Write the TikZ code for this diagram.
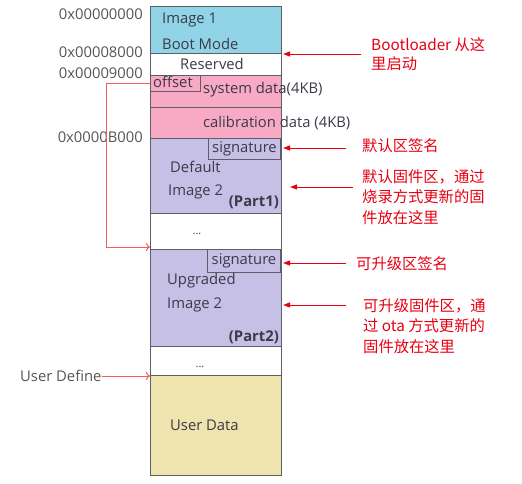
\documentclass[tikz,border=0pt]{standalone}
\usepackage{fontspec}
\setmainfont{Open Sans}
\newfontfamily\cjk{Noto Sans CJK SC}
\usetikzlibrary{arrows.meta}
\definecolor{cy}{HTML}{92D4E7}
\definecolor{pk}{HTML}{F8AAC4}
\definecolor{lv}{HTML}{C6BFE6}
\definecolor{tn}{HTML}{EFE3AE}
\definecolor{bd}{HTML}{5E5E66}
\definecolor{tx}{HTML}{3A3A48}
\definecolor{lb}{HTML}{555555}
\definecolor{rd}{HTML}{E60012}
\definecolor{lr}{HTML}{F25C5C}
\begin{document}
\begin{tikzpicture}[x=1pt,y=-1pt,
  font=\fontsize{14.8}{16}\selectfont,
  region/.style={draw=bd,line width=1.2pt,rectangle,inner sep=0pt,minimum width=131pt,anchor=north west},
  smallbox/.style={draw=bd,line width=1pt,rectangle,inner sep=0pt},
  txt/.style={text=tx,inner sep=0pt,anchor=west},
  addr/.style={text=lb,inner sep=0pt,anchor=east},
  note/.style={text=rd,inner sep=0pt,anchor=west,align=left,font=\cjk\fontsize{15.3}{20.5}\selectfont},
  rarrow/.style={draw=rd,line width=1pt,-{Triangle[length=7pt,width=5pt]}},
  larrow/.style={draw=lr,line width=1pt,-{To[length=4pt,width=8pt]}}]
\useasboundingbox (0,0) rectangle (522,483);
% memory regions
\node[region,fill=cy,minimum height=47pt] (img1) at (150,6) {};
\node[region,fill=white,minimum height=22pt] (res) at (150,53) {};
\node[region,fill=pk,minimum height=32pt] (sys) at (150,75) {};
\node[region,fill=pk,minimum height=31pt] (cal) at (150,107) {};
\node[region,fill=lv,minimum height=75pt] (def) at (150,138) {};
\node[region,fill=white,minimum height=36pt] (gap1) at (150,213) {};
\node[region,fill=lv,minimum height=97pt] (upg) at (150,249) {};
\node[region,fill=white,minimum height=29pt] (gap2) at (150,346) {};
\node[region,fill=tn,minimum height=100pt] (usr) at (150,375) {};
% inner boxes
\node[smallbox,anchor=north west,minimum width=50pt,minimum height=16pt] (off) at (150,75) {};
\node[smallbox,anchor=north east,minimum width=72pt,minimum height=21pt,text=tx] (sig1) at (281,138) {signature};
\node[smallbox,anchor=north east,minimum width=73pt,minimum height=23pt,text=tx] (sig2) at (281,249) {signature};
% texts in regions
\node[txt] (t1) at (162,20) {Image 1};
\node[txt] (t2) at (162,44) {Boot Mode};
\node[txt,anchor=center] (t3) at (212,64) {Reserved};
\node[txt] (t4) at (153,82) {offset};
\node[txt] (t5) at (203,90) {system data(4KB)};
\node[txt] (t6) at (203,123) {calibration data (4KB)};
\node[txt] (t7) at (170,167) {Default};
\node[txt] (t8) at (168,192) {Image 2};
\node[txt,anchor=east,font=\fontsize{14.8}{16}\bfseries] (t9) at (279,202) {(Part1)};
\node[txt,anchor=center,font=\fontsize{11}{12}\selectfont] (t10) at (197,234) {...};
\node[txt] (t11) at (167,281) {Upgraded};
\node[txt] (t12) at (167,305) {Image 2};
\node[txt,anchor=east,font=\fontsize{14.8}{16}\bfseries] (t13) at (279,337) {(Part2)};
\node[txt,anchor=center,font=\fontsize{11}{12}\selectfont] (t14) at (200,367) {...};
\node[txt] (t15) at (170,425) {User Data};
% addresses
\node[addr] (a1) at (143,14) {0x00000000};
\node[addr] (a2) at (143,52) {0x00008000};
\node[addr] (a3) at (143,73) {0x00009000};
\node[addr] (a4) at (143,137) {0x0000B000};
\node[addr,anchor=west] (ud) at (20,376) {User Define};
% left arrows
\draw[larrow] (off.west) -- ++(-44,0) |- ([yshift=2pt]upg.north west);
\draw[larrow] (ud.east) -- (ud.east -| usr.west);
% right notes
\node[note] (n1) at (371,54) {Bootloader 从这\\[-2pt]里启动};
\node[note] (n2) at (362,146) {默认区签名};
\node[note] (n3) at (362,197) {默认固件区，通过\\烧录方式更新的固\\件放在这里};
\node[note] (n4) at (356,264) {可升级区签名};
\node[note] (n5) at (363,326) {可升级固件区，通\\过 ota 方式更新的\\固件放在这里};
% right arrows
\coordinate (s1) at (361,54);  \coordinate (e1) at (283,54);
\coordinate (s2) at (346,148); \coordinate (e2) at (283,148);
\coordinate (s3) at (353,187); \coordinate (e3) at (290,187);
\coordinate (s4) at (346,263); \coordinate (e4) at (283,263);
\coordinate (s5) at (346,305); \coordinate (e5) at (283,305);
\draw[rarrow] (s1) -- (e1);
\draw[rarrow] (s2) -- (e2);
\draw[rarrow] (s3) -- (e3);
\draw[rarrow] (s4) -- (e4);
\draw[rarrow] (s5) -- (e5);
\end{tikzpicture}
\end{document}
